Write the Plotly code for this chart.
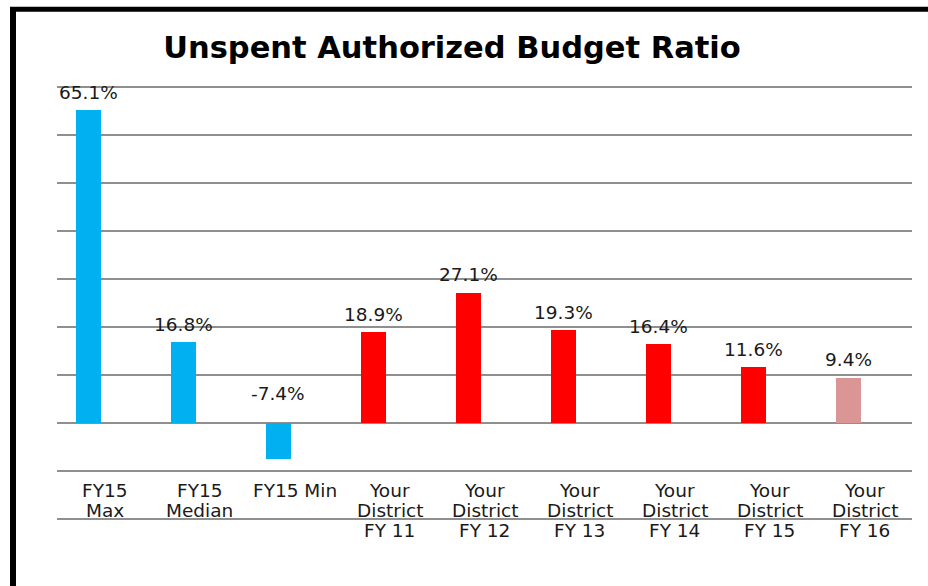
import plotly.graph_objects as go

categories = ["FY15<br>Max", "FY15<br>Median", "FY15 Min", "Your<br>District<br>FY 11",
              "Your<br>District<br>FY 12", "Your<br>District<br>FY 13", "Your<br>District<br>FY 14",
              "Your<br>District<br>FY 15", "Your<br>District<br>FY 16"]
values = [65.1, 16.8, -7.4, 18.9, 27.1, 19.3, 16.4, 11.6, 9.4]
labels = ["65.1%", "16.8%", "-7.4%", "18.9%", "27.1%", "19.3%", "16.4%", "11.6%", "9.4%"]
colors = ["#00B0F0", "#00B0F0", "#00B0F0", "#FF0000", "#FF0000", "#FF0000",
          "#FF0000", "#FF0000", "#D99694"]
y_ticks = [-20, -10, 0, 10, 20, 30, 40, 50, 60, 70]

W, H = 928, 586
ML, MR = 57, 16
MT, MB = 82.2, 62.2          # y range [-21, 71] -> 70 at 87px, -20 at 519px
BAR_W = 0.263
BAR_OFF = -0.305
FONT = "DejaVu Sans"
TXT = "#1a1a1a"

xs = list(range(len(values)))

fig = go.Figure()
fig.add_trace(go.Bar(
    x=xs, y=values, width=BAR_W, offset=BAR_OFF,
    marker=dict(color=colors, line=dict(width=0)),
    hoverinfo="skip", showlegend=False,
))

ann = []
for i, (v, t) in enumerate(zip(values, labels)):
    ann.append(dict(
        x=i + BAR_OFF + BAR_W / 2, y=max(v, 0), xref="x", yref="y",
        text=t, showarrow=False, yanchor="middle", xanchor="center",
        yshift=18 if v >= 0 else 30,
        font=dict(family=FONT, size=18.5, color=TXT),
    ))
for i, c in enumerate(categories):
    for k, line in enumerate(c.split("<br>")):
        ann.append(dict(
            x=i, y=-10, xref="x", yref="y", text=line, showarrow=False,
            yanchor="middle", xanchor="center", yshift=-19 - 20 * k,
            font=dict(family=FONT, size=18.5, color=TXT),
        ))

pw = W - ML - MR
ph = H - MT - MB
def px(p):
    return (p - ML) / pw
def py(p):
    return (H - MB - p) / ph

shapes = [
    dict(type="line", xref="paper", yref="paper", x0=px(13), x1=px(13),
         y0=py(600), y1=py(9.5), line=dict(color="black", width=6), layer="above"),
    dict(type="line", xref="paper", yref="paper", x0=px(10), x1=px(940),
         y0=py(9.5), y1=py(9.5), line=dict(color="black", width=5), layer="above"),
]

fig.update_layout(
    width=W, height=H,
    margin=dict(l=ML, r=MR, t=MT, b=MB, pad=0),
    paper_bgcolor="white", plot_bgcolor="white",
    title=dict(text="<b>Unspent Authorized Budget Ratio</b>", x=px(452), xref="paper",
               xanchor="center", y=1 - 47 / H, yref="container", yanchor="middle",
               font=dict(family=FONT, size=30.5, color="black")),
    xaxis=dict(range=[-0.5, len(values) - 0.5], showticklabels=False, showgrid=False,
               zeroline=False, showline=False, ticks=""),
    yaxis=dict(range=[-21, 71], tickvals=y_ticks, showticklabels=False,
               showgrid=True, gridcolor="#8f8f8f", gridwidth=1.5,
               zeroline=True, zerolinecolor="#8f8f8f", zerolinewidth=1.5,
               showline=False, ticks=""),
    annotations=ann,
    shapes=shapes,
    bargap=0,
)

fig.write_html("out.html", config={"displayModeBar": False},
               post_script="document.body.style.margin='0';")
